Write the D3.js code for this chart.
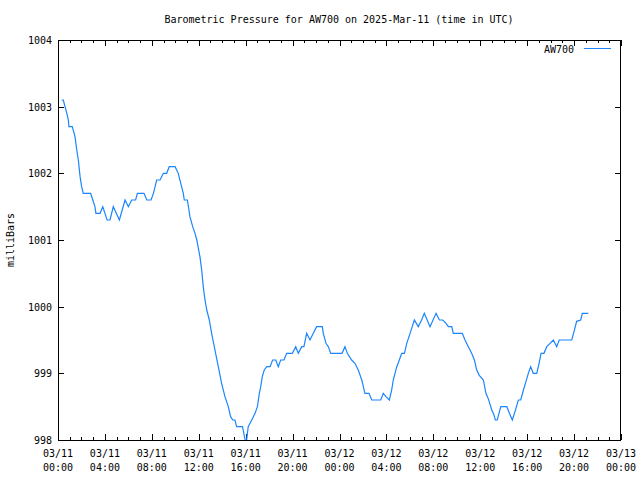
<!DOCTYPE html>
<html>
<head>
<meta charset="utf-8">
<script src="https://cdn.jsdelivr.net/npm/d3@7"></script>
<style>
  html, body { margin: 0; padding: 0; background: #fff; }
  svg { display: block; }
  text { font-family: "DejaVu Sans Mono", "Liberation Mono", monospace; font-size: 10px; fill: #000; }
</style>
</head>
<body>
<svg id="chart" width="640" height="480"></svg>
<script>
// ---- data (minutes after 2025-03-11 00:00 UTC, pressure in mbar) ----
const minutes = [19,27,36,45,53,56,73,87,96,104,113,121,129,167,178,189,194,215,229,251,266,283,314,343,360,377,397,406,440,454,476,488,505,522,539,556,569,599,615,641,646,662,675,689,701,710,726,735,743,752,761,774,786,803,820,837,854,871,883,894,905,914,944,957,965,973,991,1008,1020,1030,1037,1045,1055,1068,1085,1098,1114,1127,1139,1156,1170,1199,1216,1229,1247,1258,1272,1289,1306,1323,1352,1357,1371,1383,1395,1453,1468,1480,1502,1519,1536,1554,1562,1570,1591,1605,1651,1664,1678,1695,1707,1715,1733,1746,1758,1772,1784,1801,1812,1823,1843,1860,1874,1903,1934,1951,1968,1985,1997,2014,2022,2068,2082,2099,2116,2130,2142,2155,2176,2189,2201,2219,2230,2237,2247,2265,2296,2309,2324,2338,2355,2367,2381,2394,2406,2418,2431,2449,2461,2471,2486,2500,2517,2534,2551,2564,2628,2640,2653,2674,2682,2713];
const pressure = [1003.1,1003.1,1003.0,1002.9,1002.8,1002.7,1002.7,1002.55,1002.35,1002.2,1001.95,1001.8,1001.7,1001.7,1001.6,1001.5,1001.4,1001.4,1001.5,1001.3,1001.3,1001.5,1001.3,1001.6,1001.5,1001.6,1001.6,1001.7,1001.7,1001.6,1001.6,1001.7,1001.9,1001.9,1002.0,1002.0,1002.1,1002.1,1002.0,1001.7,1001.6,1001.6,1001.35,1001.2,1001.1,1001.0,1000.75,1000.55,1000.3,1000.1,999.95,999.8,999.6,999.35,999.1,998.85,998.65,998.5,998.35,998.3,998.3,998.2,998.2,998.0,998.0,998.2,998.3,998.4,998.5,998.7,998.8,998.95,999.05,999.1,999.1,999.2,999.2,999.1,999.2,999.2,999.3,999.3,999.4,999.3,999.4,999.4,999.6,999.5,999.6,999.7,999.7,999.6,999.45,999.4,999.3,999.3,999.4,999.3,999.2,999.15,999.05,998.9,998.8,998.7,998.7,998.6,998.6,998.7,998.65,998.6,998.75,998.9,999.1,999.2,999.3,999.3,999.45,999.6,999.7,999.8,999.7,999.8,999.9,999.7,999.9,999.8,999.8,999.75,999.7,999.7,999.6,999.6,999.5,999.4,999.3,999.2,999.05,998.97,998.9,998.7,998.62,998.45,998.38,998.3,998.3,998.5,998.5,998.4,998.3,998.43,998.6,998.6,998.75,998.88,999.0,999.1,999.0,999.0,999.15,999.3,999.3,999.4,999.45,999.5,999.4,999.5,999.5,999.63,999.78,999.8,999.9,999.9];
const seriesName = "AW700";
const yTicks = [998, 999, 1000, 1001, 1002, 1003, 1004];
const xTickHours = [0, 4, 8, 12, 16, 20, 24, 28, 32, 36, 40, 44, 48];
const xTickLabels = [["03/11","00:00"],["03/11","04:00"],["03/11","08:00"],["03/11","12:00"],["03/11","16:00"],["03/11","20:00"],["03/12","00:00"],["03/12","04:00"],["03/12","08:00"],["03/12","12:00"],["03/12","16:00"],["03/12","20:00"],["03/13","00:00"]];
const titleText = "Barometric Pressure for AW700 on 2025-Mar-11 (time in UTC)";
const yLabel = "milliBars";

// ---- layout ----
const L = 58, R = 621, T = 40, B = 440;
const svg = d3.select("#chart");
const x = d3.scaleLinear().domain([0, 48 * 60]).range([L, R]);
const y = d3.scaleLinear().domain([998, 1004]).range([B, T]);
const lineColor = "#1a85ff";

svg.append("rect").attr("width", 640).attr("height", 480).attr("fill", "#fff");

// ticks (inward, mirrored)
const g = svg.append("g").attr("shape-rendering", "crispEdges").attr("stroke", "#000").attr("stroke-width", 1);
const minorHours = d3.range(0, 49);
minorHours.forEach(h => {
  const major = h % 4 === 0;
  const len = major ? 6 : 3;
  const px = Math.round(x(h * 60)) + 0.5;
  g.append("line").attr("x1", px).attr("x2", px).attr("y1", B).attr("y2", B - len);
  g.append("line").attr("x1", px).attr("x2", px).attr("y1", T).attr("y2", T + len);
});
yTicks.forEach(v => {
  const py = Math.round(y(v)) + 0.5;
  g.append("line").attr("x1", L).attr("x2", L + 6).attr("y1", py).attr("y2", py);
  g.append("line").attr("x1", R).attr("x2", R - 6).attr("y1", py).attr("y2", py);
});

// y tick labels
svg.append("g").selectAll("text").data(yTicks).join("text")
  .attr("x", L - 6).attr("y", d => y(d) + 4)
  .attr("text-anchor", "end").text(d => d);

// x tick labels
const xl = svg.append("g").selectAll("g").data(xTickHours).join("g")
  .attr("transform", d => `translate(${x(d * 60)},0)`);
xl.append("text").attr("y", 457).attr("text-anchor", "middle").text((d, i) => xTickLabels[i][0]);
xl.append("text").attr("y", 471).attr("text-anchor", "middle").text((d, i) => xTickLabels[i][1]);

// title
svg.append("text").attr("x", 339).attr("y", 23).attr("text-anchor", "middle").text(titleText);

// y label
svg.append("text").attr("transform", "translate(14,240) rotate(-90)").attr("text-anchor", "middle").text(yLabel);

// data line
const data = minutes.map((m, i) => [m, pressure[i]]);
svg.append("path").datum(data)
  .attr("fill", "none").attr("stroke", lineColor).attr("stroke-width", 1.2)
  .attr("d", d3.line().x(d => x(d[0])).y(d => y(d[1])));

// legend
svg.append("text").attr("x", 574).attr("y", 53).attr("text-anchor", "end").text(seriesName);
svg.append("line").attr("x1", 584).attr("x2", 611).attr("y1", 48.5).attr("y2", 48.5)
  .attr("stroke", lineColor).attr("stroke-width", 1).attr("shape-rendering", "crispEdges");

// border
svg.append("rect").attr("x", L + 0.5).attr("y", T + 0.5).attr("width", R - L - 1).attr("height", B - T)
  .attr("fill", "none").attr("stroke", "#000").attr("stroke-width", 1).attr("shape-rendering", "crispEdges");
</script>
</body>
</html>
